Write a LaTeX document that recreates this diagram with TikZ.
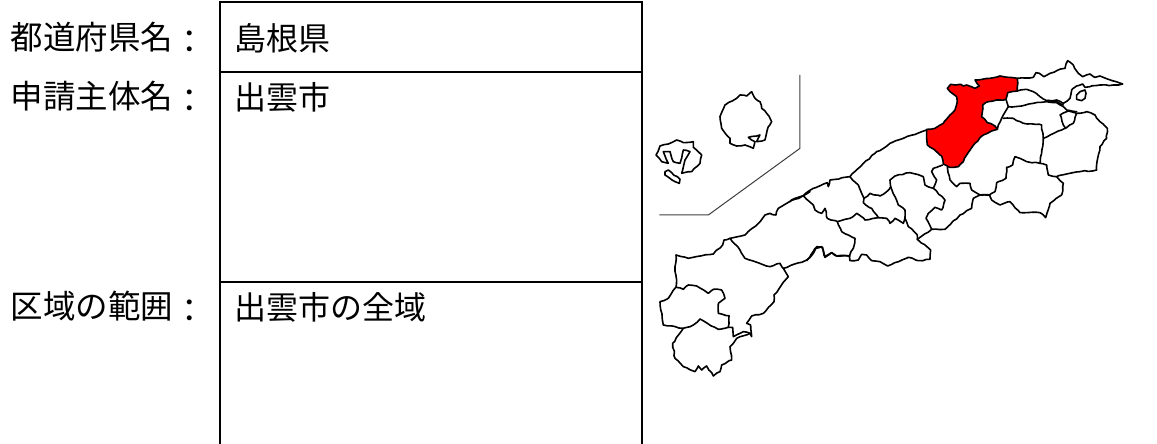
\documentclass[tikz,border=0pt]{standalone}
\usepackage{fontspec}
\usetikzlibrary{decorations.pathmorphing}
\setmainfont{Noto Sans CJK JP}
\newcommand{\lowcolon}{\raisebox{-3.5pt}{：}}
\begin{document}
\begin{tikzpicture}[x=1pt,y=-1pt,
  rule/.style={draw=black,line width=2pt},
  lbl/.style={anchor=west,inner sep=0pt,font=\fontsize{32.5}{32.5}\selectfont},
  val/.style={anchor=west,inner sep=0pt,font=\fontsize{32}{32}\selectfont},
  border/.style={draw=black,line width=1.6pt,line join=round,line cap=round,decorate,decoration={random steps,segment length=4pt,amplitude=0.6pt}},
  sea/.style={draw=black!75,line width=1pt},
  zA/.style={shift={(900,50)},x=0.3333pt,y=-0.3333pt},
  zB/.style={shift={(640,60)},x=0.3333pt,y=-0.3333pt},
  zC/.style={shift={(650,170)},x=0.3333pt,y=-0.3333pt},
  zD/.style={shift={(790,130)},x=0.3333pt,y=-0.3333pt}]
\useasboundingbox (0,0) rectangle (1157,444);
\fill[white] (0,0) rectangle (1157,444);
% table
\draw[rule] (219.5,444) -- (219.5,2) -- (641.5,2) -- (641.5,444);
\draw[rule] (219.5,72) -- (641.5,72);
\draw[rule] (219.5,282) -- (641.5,282);
% texts
\node[lbl] (l1) at (10.5,38) {都道府県名\lowcolon};
\node[lbl] (l2) at (10.5,97) {申請主体名\lowcolon};
\node[lbl] (l3) at (10.5,307) {区域の範囲\lowcolon};
\node[val] (v1) at (234,38) {島根県};
\node[val] (v2) at (234,97) {出雲市};
\node[val] (v3) at (234,307) {出雲市の全域};
% map: red city and eastern part
\begin{scope}[zA]
\path[fill=red,border] (352,85) -- (300,78) -- (270,85) -- (225,90) -- (238,108) -- (225,115) -- (200,105) -- (190,108) -- (182,103) -- (165,105) -- (152,103) -- (142,115) -- (150,125) -- (170,140) -- (172,155) -- (165,180) -- (150,195) -- (130,220) -- (105,235) -- (80,238) -- (82,285) -- (125,318) -- (130,342) -- (148,352) -- (175,350) -- (190,335) -- (200,315) -- (225,280) -- (250,255) -- (275,243) -- (292,238) -- (285,228) -- (262,218) -- (245,200) -- (248,165) -- (265,155) -- (300,150) -- (318,148) -- (323,128) -- (352,123) -- (352,85);
\draw[border] (352,85) -- (400,82) -- (408,68) -- (418,70) -- (432,80) -- (450,70) -- (470,62) -- (495,55) -- (503,32) -- (520,45) -- (535,70) -- (548,80) -- (570,72) -- (585,82) -- (600,78) -- (625,88) -- (668,102) -- (640,105) -- (600,105) -- (570,110) -- (555,112) -- (548,102) -- (530,108) -- (515,120) -- (510,145) -- (490,160) -- (470,150) -- (440,152);
\draw[border] (555,120) -- (540,125) -- (530,135) -- (530,148) -- (545,152) -- (555,145) -- (558,130) -- (555,120);
\draw[border] (352,123) -- (380,118) -- (400,125) -- (420,140) -- (440,152) -- (470,155) -- (490,165);
\draw[border] (318,148) -- (325,170) -- (365,168) -- (400,160) -- (440,155) -- (470,158) -- (490,170) -- (500,180) -- (530,185);
\draw[border] (325,170) -- (310,195) -- (295,225) -- (292,238);
\draw[border] (310,205) -- (340,205) -- (370,220) -- (425,225) -- (430,265) -- (425,310) -- (420,340);
\draw[border] (430,265) -- (495,235);
\draw[border] (480,195) -- (505,183) -- (530,190) -- (520,220) -- (497,235) -- (490,225) -- (480,195);
\draw[border] (530,190) -- (560,185) -- (585,195) -- (600,215) -- (622,235) -- (620,265) -- (600,290) -- (592,330) -- (590,360) -- (540,365) -- (500,372) -- (470,380) -- (445,375) -- (440,345) -- (420,340) -- (380,335) -- (345,320) -- (338,345) -- (320,352) -- (318,385) -- (290,398) -- (285,425) -- (268,435) -- (238,435);
\draw[border] (268,435) -- (275,450) -- (300,465) -- (330,455) -- (360,488) -- (420,488) -- (437,503) -- (450,460) -- (485,435) -- (490,400) -- (470,380);
\end{scope}
% map: centre
\begin{scope}[zD]
\draw[border] (410,0) -- (340,25) -- (300,40) -- (255,70) -- (220,100) -- (180,140) -- (120,150) -- (115,170) -- (112,158) -- (70,175) -- (40,197) -- (15,205) -- (0,215);
\draw[border] (180,140) -- (205,165) -- (215,190) -- (222,205) -- (220,218) -- (245,235) -- (265,263);
\draw[border] (222,205) -- (240,190) -- (270,198) -- (290,185) -- (302,170) -- (300,150) -- (315,138) -- (360,128) -- (400,140) -- (405,165) -- (430,175) -- (440,150) -- (425,125) -- (430,115) -- (458,105);
\draw[border] (302,170) -- (315,200) -- (325,225) -- (345,240) -- (345,265) -- (355,290) -- (382,315) -- (382,328);
\draw[border] (430,175) -- (465,210) -- (455,240) -- (435,232) -- (415,250) -- (408,265) -- (425,298) -- (382,328);
\draw[border] (425,298) -- (465,298) -- (510,255) -- (545,235) -- (550,205) -- (570,195) -- (545,180) -- (540,160) -- (510,160) -- (500,170) -- (480,150) -- (472,110);
\draw[border] (570,195) -- (600,195);
\draw[border] (40,197) -- (70,225) -- (75,240) -- (95,250) -- (105,235) -- (112,265) -- (142,275) -- (180,265) -- (200,250) -- (225,270) -- (265,263) -- (290,265) -- (300,280) -- (315,265) -- (340,280) -- (345,265);
\draw[border] (142,275) -- (155,305) -- (195,325) -- (190,355) -- (178,378);
\draw[border] (50,392) -- (75,355) -- (95,350) -- (105,380) -- (125,368) -- (140,378) -- (178,378) -- (180,392) -- (205,390) -- (215,373) -- (230,375) -- (245,392) -- (270,395) -- (293,408) -- (355,382) -- (385,392) -- (420,388) -- (422,360) -- (382,328);
\end{scope}
% map: west
\begin{scope}[zC]
\draw[border] (480,65) -- (458,78) -- (410,100) -- (385,115) -- (378,135) -- (360,130) -- (345,135) -- (325,160) -- (285,195) -- (240,205) -- (222,210) -- (218,225) -- (190,252) -- (115,265) -- (78,255) -- (75,290) -- (80,330) -- (78,352) -- (55,385) -- (30,395) -- (40,465) -- (100,475) -- (68,520) -- (75,565) -- (100,590) -- (135,605) -- (145,588) -- (155,600) -- (170,588) -- (190,618) -- (210,605) -- (215,585) -- (245,570) -- (240,530) -- (260,505) -- (300,490) -- (305,500) -- (302,465) -- (290,460) -- (305,438) -- (340,430) -- (372,395) -- (372,375) -- (415,320) -- (400,295) -- (470,270) -- (490,250) -- (500,230) -- (518,232) -- (525,262) -- (545,248) -- (560,258) -- (600,258);
\draw[border] (240,205) -- (270,240) -- (285,265) -- (315,275) -- (360,290) -- (390,280) -- (400,295);
\draw[border] (78,352) -- (100,358) -- (115,345) -- (140,348) -- (175,370) -- (190,358) -- (215,360) -- (225,385) -- (205,400) -- (205,430) -- (237,437) -- (235,472) -- (205,478) -- (175,462) -- (150,447) -- (130,465) -- (100,475);
\draw[border] (235,472) -- (248,472) -- (250,500) -- (280,485) -- (300,490);
\end{scope}
% islands and sea line
\begin{scope}[zB]
\draw[sea] (58,465) -- (205,465) -- (480,265) -- (480,45);
\draw[border] (335,95) -- (345,115) -- (360,125) -- (365,145) -- (380,160) -- (395,185) -- (385,200) -- (375,240) -- (350,245) -- (360,225) -- (325,232) -- (345,245) -- (340,265) -- (315,255) -- (290,258) -- (270,250) -- (270,235) -- (245,205) -- (240,170) -- (255,135) -- (290,115) -- (300,105) -- (320,108) -- (335,95);
\draw[border] (60,258) -- (85,252) -- (110,240) -- (130,248) -- (160,245) -- (160,262) -- (185,285) -- (180,310) -- (155,335) -- (125,340) -- (135,300) -- (150,275) -- (130,270) -- (120,310) -- (100,305) -- (90,275) -- (70,275) -- (85,310) -- (65,305) -- (48,285) -- (60,258);
\draw[border] (75,335) -- (85,330) -- (120,358) -- (118,370) -- (105,365) -- (75,345) -- (75,335);
\end{scope}
\end{tikzpicture}
\end{document}
